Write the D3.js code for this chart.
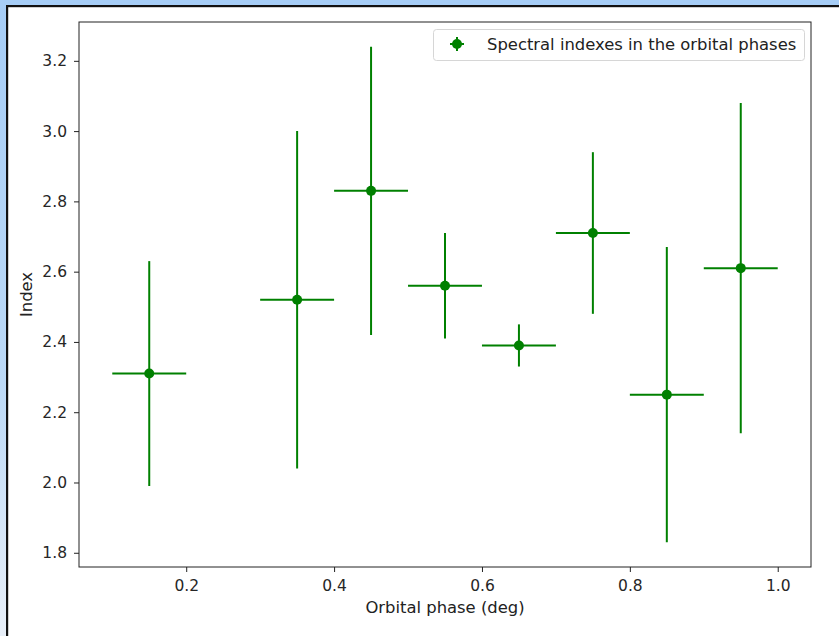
<!DOCTYPE html>
<html>
<head>
<meta charset="utf-8">
<script src="https://cdn.jsdelivr.net/npm/d3@7"></script>
<style>
  html, body { margin: 0; padding: 0; background: #fff; }
  svg { display: block; }
  text { font-family: "DejaVu Sans", sans-serif; }
</style>
</head>
<body>
<svg id="chart" width="839" height="636"></svg>
<script>
// Orbital phase bins and measured spectral index per bin
const phases = [0.15, 0.35, 0.45, 0.55, 0.65, 0.75, 0.85, 0.95];
const indexValues = [2.31, 2.52, 2.83, 2.56, 2.39, 2.71, 2.25, 2.61];
const indexErrors = [0.32, 0.48, 0.41, 0.15, 0.06, 0.23, 0.42, 0.47];
const phaseErrors = [0.05, 0.05, 0.05, 0.05, 0.05, 0.05, 0.05, 0.05];
const xTicks = [0.2, 0.4, 0.6, 0.8, 1.0];
const yTicks = [1.8, 2.0, 2.2, 2.4, 2.6, 2.8, 3.0, 3.2];
const seriesLabel = "Spectral indexes in the orbital phases";

(function () {
  const svg = d3.select("#chart");
  const W = 839, H = 636;
  const green = "#008000";

  // window frame: light blue surround with a dark edge
  const defs = svg.append("defs");
  const grad = defs.append("linearGradient").attr("id", "edge").attr("x1", 0).attr("y1", 0).attr("x2", 0).attr("y2", 1);
  grad.append("stop").attr("offset", "0%").attr("stop-color", "#a6cdf6");
  grad.append("stop").attr("offset", "60%").attr("stop-color", "#bcd9f6");
  grad.append("stop").attr("offset", "100%").attr("stop-color", "#e8eff8");
  svg.append("rect").attr("width", W).attr("height", H).attr("fill", "#ffffff");
  svg.append("rect").attr("x", 0).attr("y", 0).attr("width", W).attr("height", 6).attr("fill", "#a6cdf6");
  svg.append("rect").attr("x", 0).attr("y", 0).attr("width", 6).attr("height", H).attr("fill", "url(#edge)");
  svg.append("rect").attr("x", 6).attr("y", 5).attr("width", W - 6).attr("height", 2.2).attr("fill", "#111");
  svg.append("rect").attr("x", 6).attr("y", 5).attr("width", 2.2).attr("height", H - 5).attr("fill", "#111");

  // plot area
  const pl = 79, pr = 811, pt = 22, pb = 567;

  const xExt = [d3.min(phases.map((p, i) => p - phaseErrors[i])), d3.max(phases.map((p, i) => p + phaseErrors[i]))];
  const yExt = [d3.min(indexValues.map((v, i) => v - indexErrors[i])), d3.max(indexValues.map((v, i) => v + indexErrors[i]))];
  const xPad = (xExt[1] - xExt[0]) * 0.05, yPad = (yExt[1] - yExt[0]) * 0.05;

  const x = d3.scaleLinear().domain([xExt[0] - xPad, xExt[1] + xPad]).range([pl, pr]);
  const y = d3.scaleLinear().domain([yExt[0] - yPad, yExt[1] + yPad]).range([pb, pt]);

  // axes
  const xAxis = svg.append("g").attr("transform", `translate(0,${pb})`)
    .call(d3.axisBottom(x).tickValues(xTicks).tickFormat(d3.format(".1f")).tickSizeOuter(0).tickSize(5).tickPadding(8));
  const yAxis = svg.append("g").attr("transform", `translate(${pl},0)`)
    .call(d3.axisLeft(y).tickValues(yTicks).tickFormat(d3.format(".1f")).tickSizeOuter(0).tickSize(5).tickPadding(7));
  [xAxis, yAxis].forEach(g => {
    g.select(".domain").remove();
    g.selectAll("line").attr("stroke", "#222").attr("stroke-width", 1);
    g.selectAll("text").attr("font-size", 15.5).attr("fill", "#262626");
  });

  // spines
  svg.append("rect").attr("x", pl).attr("y", pt).attr("width", pr - pl).attr("height", pb - pt)
    .attr("fill", "none").attr("stroke", "#222").attr("stroke-width", 1);

  // error bars
  const pts = phases.map((p, i) => ({ x: p, y: indexValues[i], ex: phaseErrors[i], ey: indexErrors[i] }));
  const g = svg.append("g");
  g.selectAll("line.ey").data(pts).join("line").attr("class", "ey")
    .attr("x1", d => x(d.x)).attr("x2", d => x(d.x))
    .attr("y1", d => y(d.y - d.ey)).attr("y2", d => y(d.y + d.ey))
    .attr("stroke", green).attr("stroke-width", 2);
  g.selectAll("line.ex").data(pts).join("line").attr("class", "ex")
    .attr("x1", d => x(d.x - d.ex)).attr("x2", d => x(d.x + d.ex))
    .attr("y1", d => y(d.y)).attr("y2", d => y(d.y))
    .attr("stroke", green).attr("stroke-width", 2);
  g.selectAll("circle").data(pts).join("circle")
    .attr("cx", d => x(d.x)).attr("cy", d => y(d.y)).attr("r", 5)
    .attr("fill", green);

  // axis titles
  svg.append("text").attr("x", (pl + pr) / 2).attr("y", 613).attr("text-anchor", "middle")
    .attr("font-size", 16.4).attr("fill", "#222").text("Orbital phase (deg)");
  svg.append("text").attr("transform", `translate(32,${(pt + pb) / 2}) rotate(-90)`).attr("text-anchor", "middle")
    .attr("font-size", 16.4).attr("fill", "#222").text("Index");

  // legend
  const lg = svg.append("g");
  lg.append("rect").attr("x", 433.5).attr("y", 29.5).attr("width", 371).attr("height", 31).attr("rx", 3)
    .attr("fill", "#fff").attr("fill-opacity", 0.8).attr("stroke", "#d6d6d6").attr("stroke-width", 1);
  const mx = 457, my = 44;
  lg.append("line").attr("x1", mx - 7).attr("x2", mx + 7).attr("y1", my).attr("y2", my).attr("stroke", green).attr("stroke-width", 2);
  lg.append("line").attr("x1", mx).attr("x2", mx).attr("y1", my - 7).attr("y2", my + 7).attr("stroke", green).attr("stroke-width", 2);
  lg.append("circle").attr("cx", mx).attr("cy", my).attr("r", 5).attr("fill", green);
  lg.append("text").attr("x", 487).attr("y", 50).attr("font-size", 16.4).attr("fill", "#222").text(seriesLabel);
})();
</script>
</body>
</html>
